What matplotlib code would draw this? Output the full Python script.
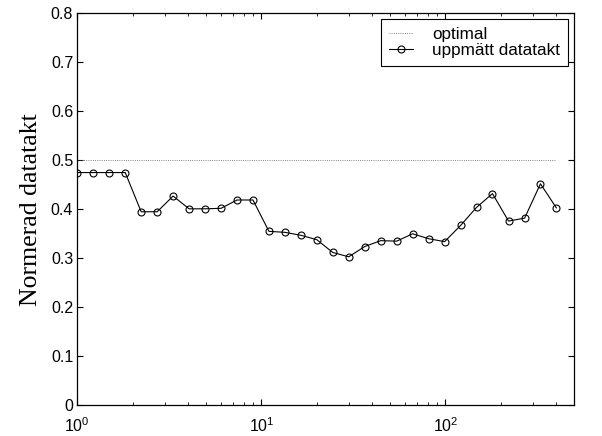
import matplotlib
matplotlib.use('Agg')
import matplotlib.pyplot as plt
import numpy as np

plt.rcParams['font.family'] = 'Liberation Sans'
plt.rcParams['mathtext.fontset'] = 'custom'
plt.rcParams['mathtext.rm'] = 'Liberation Sans'
plt.rcParams['mathtext.it'] = 'Liberation Sans'

# measured data rate vs x (log scale)
x_vals = [1.0, 1.221, 1.491, 1.821, 2.223, 2.715, 3.315, 4.048, 4.943, 6.036,
          7.37, 9.0, 10.99, 13.42, 16.39, 20.0, 24.4, 29.8, 36.4, 44.5,
          54.3, 66.3, 81.0, 98.9, 120.8, 147.5, 180.0, 220.0, 269.0, 328.0, 400.0]
rate = [0.475, 0.475, 0.475, 0.475, 0.395, 0.395, 0.427, 0.401, 0.401, 0.402,
        0.419, 0.419, 0.355, 0.353, 0.347, 0.338, 0.312, 0.303, 0.324, 0.336,
        0.335, 0.350, 0.340, 0.334, 0.367, 0.404, 0.432, 0.376, 0.382, 0.452, 0.403]
optimal = 0.5

ytick_vals = [0, 0.1, 0.2, 0.3, 0.4, 0.5, 0.6, 0.7, 0.8]
ytick_labels = ['0', '0.1', '0.2', '0.3', '0.4', '0.5', '0.6', '0.7', '0.8']

fig = plt.figure(figsize=(6.02, 4.36), dpi=100)
ax = fig.add_axes([0.1284, 0.0704, 0.8243, 0.8991])

ax.semilogx(x_vals, [optimal] * len(x_vals), ':', color='0.35', lw=0.6, label='optimal')
ax.semilogx(x_vals, rate, '-o', color='k', lw=0.8, ms=5, mfc='none', mec='k', mew=0.8,
            label='uppmätt datatakt')

ax.set_xlim(1, 496)
ax.set_ylim(0, 0.8)
ax.set_yticks(ytick_vals)
ax.set_yticklabels(ytick_labels)
ax.set_ylabel('Normerad datatakt', family='Liberation Serif', fontsize=18.5, labelpad=6)

ax.tick_params(which='both', direction='in', top=True, right=True, labelsize=11.5)
ax.tick_params(axis='y', pad=3)
ax.tick_params(axis='x', pad=8)
ax.tick_params(which='major', length=4)
ax.tick_params(which='minor', length=2.5)
for s in ax.spines.values():
    s.set_linewidth(0.9)

leg = ax.legend(loc='upper right', fontsize=12.3, fancybox=False, framealpha=1,
                edgecolor='k', borderpad=0.45, labelspacing=0.08, handlelength=1.45,
                handletextpad=1.1, borderaxespad=0.33)
leg.get_frame().set_linewidth(0.8)

plt.savefig('out.png', dpi=100)
